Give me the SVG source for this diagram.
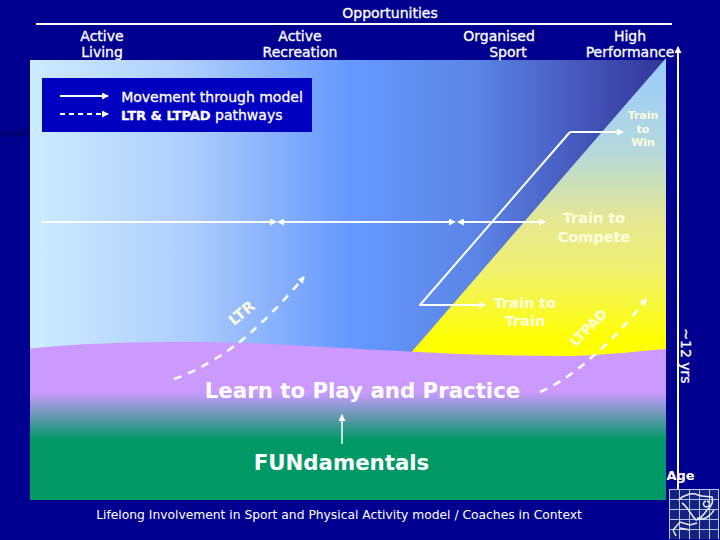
<svg xmlns="http://www.w3.org/2000/svg" width="720" height="540" viewBox="0 0 720 540">
<style>
text{font-family:"DejaVu Sans","Liberation Sans",sans-serif;fill:#fff;text-anchor:middle}
.h{font-size:14px;stroke:#fff;stroke-width:.3px}
.l{fill:none;stroke:#fff;stroke-width:2}
.d{fill:none;stroke:#fff;stroke-width:2.5;stroke-dasharray:8 7}
.t{fill:#fffde0;font-weight:bold}
.lg{fill:none;stroke:#e8eeff;stroke-width:1.5}
.gr{fill:none;stroke:#b8c4e8;stroke-width:1}
</style>
<defs>
<linearGradient id="sky" x1="0" x2="1" y1="0" y2="0"><stop offset="0" stop-color="#ccecff"/><stop offset=".25" stop-color="#aecdfc"/><stop offset=".5" stop-color="#6699ff"/><stop offset=".7" stop-color="#5b85e6"/><stop offset="1" stop-color="#333399"/></linearGradient>
<linearGradient id="yel" x1="0" x2="0" y1="60" y2="340" gradientUnits="userSpaceOnUse"><stop offset="0" stop-color="#99ccff"/><stop offset=".32" stop-color="#b4d8dc"/><stop offset=".58" stop-color="#e6e890"/><stop offset=".75" stop-color="#f0f070"/><stop offset="1" stop-color="#ffff00"/></linearGradient>
<linearGradient id="grn" x1="0" x2="0" y1="392" y2="440" gradientUnits="userSpaceOnUse"><stop offset="0" stop-color="#cc99ff"/><stop offset="1" stop-color="#009966"/></linearGradient>
<marker id="a" markerWidth="8" markerHeight="7" refX="6" refY="3.500" orient="auto-start-reverse" markerUnits="userSpaceOnUse"><path d="M0 0L7 3.500L0 7z" fill="#fff"/></marker>
</defs>
<rect width="720" height="540" fill="#000090"/>
<rect x="0" y="130" width="30" height="7" fill="#000078"/>
<g id="model">
<rect x="30" y="60" width="636" height="440" fill="url(#sky)"/>
<polygon points="666,58 666,370 400,370 409,355" fill="url(#yel)"/>
<path d="M30 348.500C80 343 140 342 190 342C270 342 340 349 409 351.500C470 355 530 356 570 356C610 355 640 351 666 349L666 392L30 392Z" fill="#cc99ff"/>
<rect x="30" y="392" width="636" height="48" fill="url(#grn)"/>
<rect x="30" y="440" width="636" height="60" fill="#009966"/>
</g>
<g id="legend">
<rect x="42" y="78" width="270" height="54" fill="#0000c0"/>
<path class="l" d="M60 96H108" marker-end="url(#a)"/>
<path class="l" d="M60 114H108" stroke-dasharray="5 4" marker-end="url(#a)"/>
<text class="h" x="212" y="101.500">Movement through model</text>
<text x="121" y="120" style="font-size:14px;text-anchor:start;stroke:#fff;stroke-width:.3px"><tspan font-weight="bold" style="font-size:13px">LTR &amp; LTPAD</tspan> pathways</text>
</g>
<g id="header">
<text x="390" y="18" class="h">Opportunities</text>
<path d="M36 24H672" stroke="#fff" stroke-width="2"/>
<text class="h" x="102" y="41">Active</text><text class="h" x="102" y="57">Living</text>
<text class="h" x="300" y="41">Active</text><text class="h" x="300" y="57">Recreation</text>
<text class="h" x="499" y="41">Organised</text><text class="h" x="508" y="57">Sport</text>
<text class="h" x="630" y="41">High</text><text class="h" x="630" y="57">Performance</text>
</g>
<g id="connectors">
<path class="l" d="M42 222H276" marker-end="url(#a)"/>
<path class="l" d="M278 222H455" marker-start="url(#a)" marker-end="url(#a)"/>
<path class="l" d="M458 222H545" marker-start="url(#a)" marker-end="url(#a)"/>
<path class="l" d="M570 132L420 305H485" stroke-linejoin="round" marker-end="url(#a)"/>
<path class="l" d="M570 132H623" marker-end="url(#a)"/>
<path class="l" d="M678 515V47" marker-end="url(#a)"/>
<path d="M342 444V415" fill="none" stroke="#fff" stroke-width="1.500" marker-end="url(#a)"/>
<path class="d" d="M174 379C200 370 222 355 237 344C258 328 285 300 304 277" marker-end="url(#a)"/>
<path class="d" d="M540 392C560 383 578 370 593 356C612 340 632 318 646 299" marker-end="url(#a)"/>
</g>
<g id="stages">
<text class="t" x="643" y="118.500" font-size="11">Train</text><text class="t" x="643" y="132.500" font-size="11">to</text><text class="t" x="643" y="146" font-size="11">Win</text>
<text class="t" x="594" y="223" font-size="14.500">Train to</text><text class="t" x="594" y="242" font-size="14.500">Compete</text>
<text class="t" x="525" y="307.500" font-size="14.500">Train to</text><text class="t" x="525" y="326" font-size="14.500">Train</text>
<text class="t" font-size="15" transform="translate(245 317) rotate(-40)">LTR</text>
<text class="t" font-size="13.500" transform="translate(592 331) rotate(-45)">LTPAD</text>
<text x="362.500" y="398" font-size="21.300" font-weight="bold">Learn to Play and Practice</text>
<text x="341.500" y="470" font-size="21.300" font-weight="bold">FUNdamentals</text>
</g>
<g id="footer">
<text x="339" y="519" font-size="12.300">Lifelong Involvement in Sport and Physical Activity model / Coaches in Context</text>
<text x="680.500" y="480" font-size="13" font-weight="bold">Age</text>
<text class="h" transform="translate(680.500 356) rotate(90)">~12 yrs</text>
</g>
<g id="logo">
<rect x="669" y="489" width="50" height="50" fill="#14237f"/>
<path class="gr" d="M669 489.500H719M669 499.500H719M669 509.500H719M669 519.500H719M669 529.500H719M669.500 489V539M679.500 489V539M689.500 489V539M699.500 489V539M709.500 489V539M718.500 489V539"/>
<path class="lg" d="M678 500C684 495 692 492 698 495C703 497 708 496 712 497C714 503 710 508 707 510C703 516 700 519 696 520C691 515 687 506 682 503M706 501a3 3 0 1 0 1 0M697 518C703 521 710 517 714 510M673 530L680 522L690 525L697 523M673 530L676 536M680 528L690 530"/>
</g>
</svg>
